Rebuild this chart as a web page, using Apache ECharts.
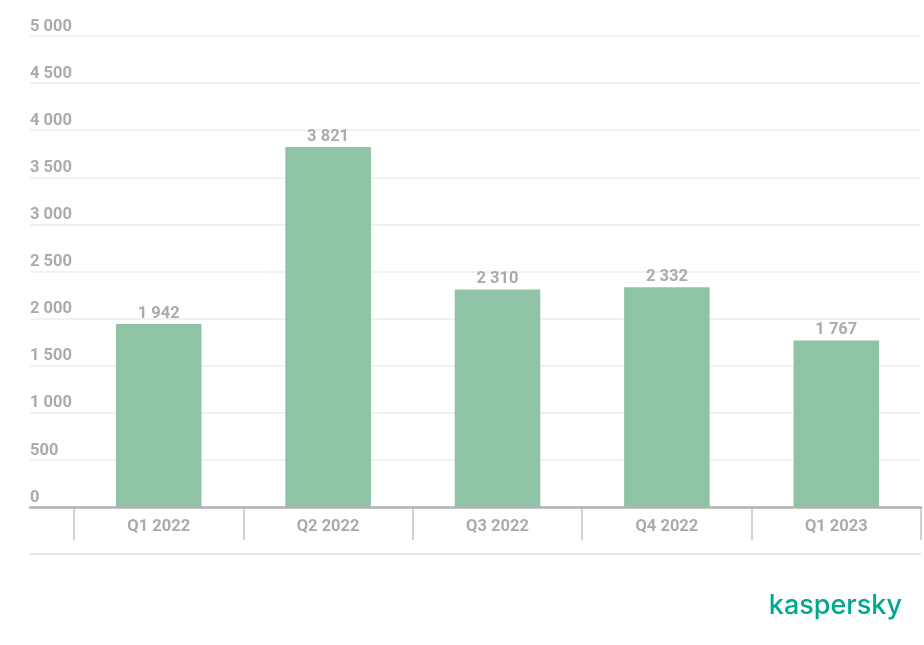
<!DOCTYPE html>
<html>
<head>
<meta charset="utf-8">
<script src="https://cdn.jsdelivr.net/npm/echarts@6/dist/echarts.min.js"></script>
<style>html,body{margin:0;padding:0;background:#fff}#c{width:924px;height:645px}</style>
</head>
<body>
<div id="c"></div>
<script>
const categories = ['Q1 2022', 'Q2 2022', 'Q3 2022', 'Q4 2022', 'Q1 2023'];
const values = [1942, 3821, 2310, 2332, 1767];
const yMin = 0, yMax = 5000, yStep = 500;

const fmt = v => String(v).replace(/\B(?=(\d{3})+(?!\d))/g, ' ');
const gray = '#ababab';
const font = 'Roboto';
const fw = 'bold';

const chart = echarts.init(document.getElementById('c'), null, {renderer: 'canvas'});
chart.setOption({
  animation: false,
  textStyle: {fontFamily: font},
  grid: [
    {left: 30, right: 3, top: 36, bottom: 138},
    {left: 74, right: 3, top: 36, bottom: 138}
  ],
  xAxis: [
    {gridIndex: 0, type: 'category', data: [''], axisLine: {show: true, lineStyle: {color: '#b3b3b3', width: 2.5}},
     axisTick: {show: false}, axisLabel: {show: false}, z: 5},
    {gridIndex: 1, type: 'category', data: categories,
     axisLine: {show: false},
     axisTick: {show: true, length: 33, lineStyle: {color: '#c4c4c4', width: 1.5}},
     axisLabel: {color: gray, fontSize: 16.5, fontWeight: fw, margin: 11, fontFamily: font}}
  ],
  yAxis: [
    {gridIndex: 0, type: 'value', min: yMin, max: yMax, interval: yStep,
     axisLine: {show: false}, axisTick: {show: false},
     splitLine: {lineStyle: {color: '#ececec', width: 1.5}},
     axisLabel: {inside: true, margin: 0, align: 'left', verticalAlign: 'bottom', padding: [0, 0, 1, 0],
                 color: gray, fontSize: 16.5, fontWeight: fw, fontFamily: font, formatter: fmt}},
    {gridIndex: 1, type: 'value', min: yMin, max: yMax, interval: yStep, show: false}
  ],
  series: [{
    type: 'bar', xAxisIndex: 1, yAxisIndex: 1, data: values, barWidth: '50.5%',
    itemStyle: {color: '#8ec3a6'},
    label: {show: true, position: 'top', distance: 2, color: gray, fontSize: 16.5, fontWeight: fw,
            fontFamily: font, formatter: p => fmt(p.value)}
  }],
  graphic: [
    {type: 'line', shape: {x1: 30, y1: 554, x2: 921, y2: 554}, style: {stroke: '#dedede', lineWidth: 1.5}},
    {type: 'text', right: 22, top: 592, style: {text: 'kaspersky', fill: '#00a88e', font: '500 27px Inter'}}
  ]
});
</script>
</body>
</html>
